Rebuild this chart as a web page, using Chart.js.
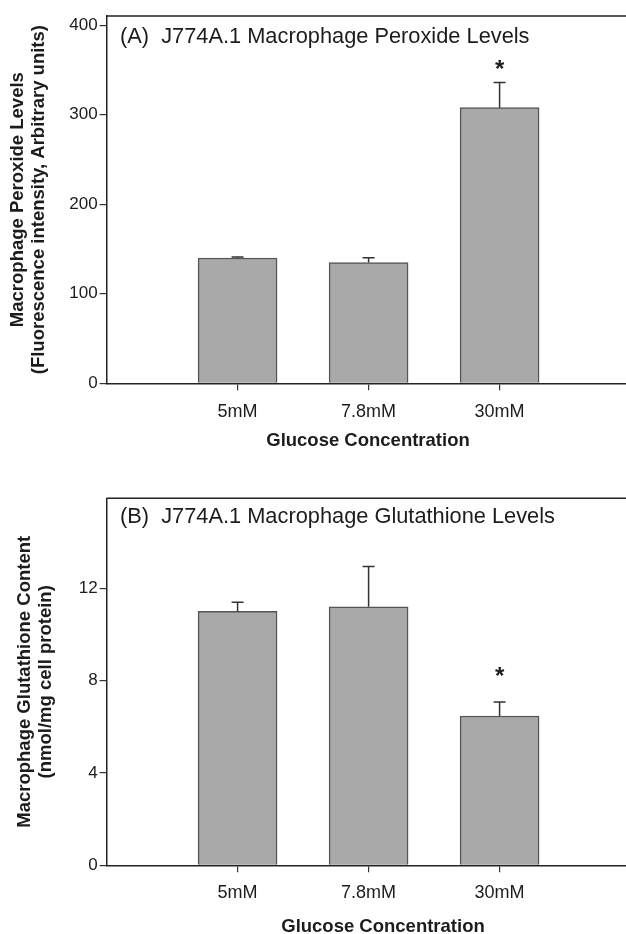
<!DOCTYPE html>
<html>
<head>
<meta charset="utf-8">
<script src="https://cdn.jsdelivr.net/npm/chart.js@4.4.1/dist/chart.umd.min.js"></script>
<style>
  html, body { margin: 0; padding: 0; background: #fff; overflow: hidden; }
  .panel { position: absolute; left: 0; width: 626px; height: 467px; }
  #panelA { top: 0; }
  #panelB { top: 467px; }
</style>
</head>
<body>
<div class="panel" id="panelA"><canvas id="chartA" width="626" height="467"></canvas></div>
<div class="panel" id="panelB"><canvas id="chartB" width="626" height="467"></canvas></div>
<script>
const categories = ["5mM", "7.8mM", "30mM"];

const peroxideMeans = [140, 135, 308];
const peroxideErrors = [1, 5.3, 28];
const peroxideTicks = [0, 100, 200, 300, 400];
const peroxideStars = [null, null, 355];

const glutathioneMeans = [11.0, 11.2, 6.47];
const glutathioneErrors = [0.4, 1.74, 0.6];
const glutathioneTicks = [0, 4, 8, 12];
const glutathioneStars = [null, null, 8.35];

const FONT = "'Liberation Sans', Arial, Helvetica, sans-serif";
const INK = "#1c1c1c";

// error bars, significance stars, inner title, top frame line and x title
const decorations = {
  id: "decorations",
  afterDatasetsDraw(chart, args, opts) {
    const { ctx, chartArea } = chart;
    const xs = chart.scales.x;
    const ys = chart.scales.y;

    ctx.save();
    ctx.strokeStyle = "#333";
    ctx.lineWidth = 1.5;
    opts.means.forEach((m, i) => {
      const x = xs.getPixelForValue(i + 1);
      const yBar = ys.getPixelForValue(m);
      const yTop = ys.getPixelForValue(m + opts.errors[i]);
      ctx.beginPath();
      ctx.moveTo(x, yBar);
      ctx.lineTo(x, yTop);
      ctx.moveTo(x - 6, yTop);
      ctx.lineTo(x + 6, yTop);
      ctx.stroke();
    });

    ctx.fillStyle = INK;
    ctx.font = `bold 24px ${FONT}`;
    ctx.textAlign = "center";
    ctx.textBaseline = "alphabetic";
    opts.stars.forEach((s, i) => {
      if (s == null) return;
      ctx.fillText("*", xs.getPixelForValue(i + 1), ys.getPixelForValue(s) + 11);
    });

    // top frame line
    ctx.strokeStyle = "#222";
    ctx.beginPath();
    ctx.moveTo(chartArea.left, chartArea.top);
    ctx.lineTo(chartArea.right, chartArea.top);
    ctx.stroke();

    ctx.font = `21.8px ${FONT}`;
    ctx.textAlign = "left";
    ctx.textBaseline = "middle";
    ctx.fillText(opts.title, 120, chartArea.top + opts.titleDy);

    ctx.font = `bold 18.5px ${FONT}`;
    ctx.textAlign = "center";
    ctx.fillText(opts.xTitle, opts.xTitleX, opts.xTitleY);
    ctx.restore();
  },
};

function makePanel(canvasId, p) {
  return new Chart(document.getElementById(canvasId), {
    type: "bar",
    data: {
      datasets: [{
        data: categories.map((c, i) => ({ x: i + 1, y: p.means[i] })),
        backgroundColor: "#a9a9a9",
        borderColor: "#555",
        borderWidth: 1.5,
        barThickness: 79,
      }],
    },
    plugins: [decorations],
    options: {
      responsive: false,
      animation: false,
      layout: { padding: { top: p.padTop, right: 0, bottom: 0, left: 0 } },
      plugins: {
        legend: { display: false },
        tooltip: { enabled: false },
        decorations: p,
      },
      scales: {
        x: {
          type: "linear",
          min: 0,
          max: 3.965,
          offset: false,
          afterBuildTicks: (s) => { s.ticks = categories.map((c, i) => ({ value: i + 1 })); },
          afterFit: (s) => { s.height = p.xHeight; },
          grid: { offset: false, drawOnChartArea: false, drawTicks: true, tickLength: 7, color: "#333", lineWidth: 1.2 },
          border: { display: true, color: "#222", width: 1.5 },
          ticks: {
            autoSkip: false,
            maxRotation: 0,
            padding: p.xPad,
            color: INK,
            font: { family: FONT, size: 18 },
            callback: (v) => categories[v - 1],
          },
        },
        y: {
          min: 0,
          max: p.yMax,
          afterBuildTicks: (s) => { s.ticks = p.yTicks.map((v) => ({ value: v })); },
          afterFit: (s) => { s.width = 106.6; },
          grid: { drawOnChartArea: false, drawTicks: true, tickLength: 7, color: "#333", lineWidth: 1.2 },
          border: { display: true, color: "#222", width: 1.5 },
          ticks: { padding: 2, color: INK, font: { family: FONT, size: 17 } },
          title: {
            display: true,
            text: p.yTitle,
            color: INK,
            font: { family: FONT, size: 18.5, weight: "bold", lineHeight: "21px" },
            padding: { top: p.yTitlePad, bottom: 0 },
          },
        },
      },
    },
  });
}

makePanel("chartA", {
  means: peroxideMeans,
  errors: peroxideErrors,
  stars: peroxideStars,
  yTicks: peroxideTicks,
  yMax: 410.4,
  padTop: 16,
  xHeight: 83.7,
  xPad: 11,
  yTitlePad: 7,
  yTitle: ["Macrophage Peroxide Levels", "(Fluorescence intensity, Arbitrary units)"],
  title: "(A)  J774A.1 Macrophage Peroxide Levels",
  titleDy: 21,
  xTitle: "Glucose Concentration",
  xTitleX: 368,
  xTitleY: 441,
});

makePanel("chartB", {
  means: glutathioneMeans,
  errors: glutathioneErrors,
  stars: glutathioneStars,
  yTicks: glutathioneTicks,
  yMax: 15.9,
  padTop: 31.3,
  xHeight: 68.7,
  xPad: 10,
  yTitlePad: 14.5,
  yTitle: ["Macrophage Glutathione Content", "(nmol/mg cell protein)"],
  title: "(B)  J774A.1 Macrophage Glutathione Levels",
  titleDy: 19,
  xTitle: "Glucose Concentration",
  xTitleX: 383,
  xTitleY: 460,
});
</script>
</body>
</html>
